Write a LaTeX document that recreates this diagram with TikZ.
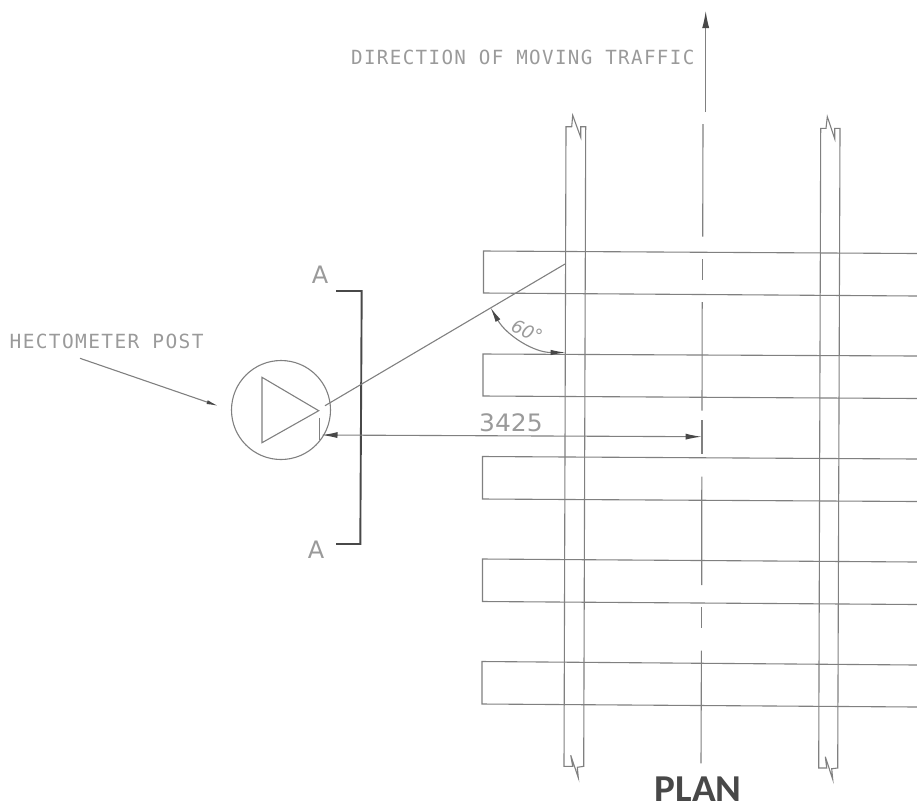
\documentclass[tikz,border=0pt]{standalone}
\usepackage{fontspec}
\usetikzlibrary{arrows.meta}
\newfontfamily\cadmono[LetterSpace=7]{DejaVu Sans Mono}
\newfontfamily\cadsans{DejaVu Sans}
\newfontfamily\planfont{Carlito}
\definecolor{inkgray}{HTML}{808080}
\definecolor{textgray}{HTML}{9A9A9A}
\definecolor{darkgray}{HTML}{484848}

\begin{document}
\begin{tikzpicture}[x=1pt,y=-1pt,
						cadline/.style={draw=inkgray,line width=1.1pt},
						bracket/.style={draw=darkgray,line width=1.9pt},
						notelabel/.style={text=textgray,inner sep=0pt,font=\cadmono\fontsize{19.5}{19.5}\selectfont},
						seclabel/.style={text=textgray,inner sep=0pt,font=\cadsans\fontsize{24}{24}\selectfont}]
		\useasboundingbox (0,0) rectangle (917,807);

		% text
		\node[notelabel,anchor=west,xscale=0.985]				(traffic)	at (351,57)		{DIRECTION OF MOVING TRAFFIC};
		\node[notelabel,anchor=west]							(hecto)		at (9.5,341)	{HECTOMETER POST};
		\node[seclabel]										(atop)		at (320,275)	{A};
		\node[seclabel]										(abot)		at (316,550)	{A};
		\node[seclabel,xscale=1.04]							(dim)		at (511,423)	{3425};
		\node[text=textgray,inner sep=0pt,rotate=-25,font=\cadsans\fontsize{18}{18}\selectfont\itshape]	(angle)	at (527,331)	{60°};
		\node[text=darkgray,inner sep=0pt,xscale=1.03,font=\planfont\bfseries\fontsize{38}{38}\selectfont]	(plan)	at (698.3,789)	{PLAN};

		% sleepers
		\draw[cadline] (917,253.5) -- (483.5,251) -- (483.5,293) -- (917,296);
		\draw[cadline] (917,356) -- (483,354) -- (483,396) -- (917,398.5);
		\draw[cadline] (917,459) -- (482.5,456.5) -- (482.5,499) -- (917,501.5);
		\draw[cadline] (917,562) -- (482.5,559) -- (482.5,601.5) -- (917,604.5);
		\draw[cadline] (917,665) -- (482,661.5) -- (482,704) -- (917,707);

		% rails
		\draw[cadline] (580.7,137.3) -- (580.7,126.7) -- (585.7,126.7) -- (583.7,766.3) -- (577.3,767.3) -- (578.3,777.7) -- (570.7,755.3) -- (572.7,766.3) -- (564,766.3) -- (566,126.7) -- (571.7,126.7) -- (572.7,115.3) -- cycle;
		\draw[cadline] (834.7,138.7) -- (834.7,128.3) -- (840,128.3) -- (837.7,768) -- (831.7,768.7) -- (832.7,779.3) -- (825.3,756.7) -- (826.7,768) -- (818.7,768) -- (820.7,128.3) -- (826,128.3) -- (827.3,116.7) -- cycle;

		% centre line
		\coordinate (arrowbase)	at (705.7,112);
		\coordinate (arrowtip)	at (705.7,11);
		\draw[cadline,-{Latex[length=17pt,width=7pt,color=darkgray]}] (arrowbase) -- (arrowtip);
		\draw[cadline] (703,124) -- (702.7,236.7);
		\draw[cadline] (702.4,259) -- (702.4,280);
		\draw[cadline] (702.2,302) -- (702,410.7);
		\draw[cadline] (702,420) -- (702,454.3);
		\draw[cadline] (701.8,476.7) -- (701.7,585);
		\draw[cadline] (701.5,607.3) -- (701.5,628.3);
		\draw[cadline] (701.4,650.7) -- (701,763.3);

		% hectometer post
		\node[circle,draw=inkgray,line width=1.1pt,inner sep=0pt,minimum size=99pt]	(post)	at (281,410)	{};
		\draw[cadline] (262,377.3) -- (262,442.7) -- (318.7,410.7) -- cycle;
		\draw[cadline] (319.3,417.7) -- (319.3,440);

		\coordinate (leader)	at (80,358.3);
		\coordinate (leadtip)	at (218.5,406);
		\draw[cadline,-{Latex[length=12pt,width=4pt,color=darkgray]}] (leader) -- (leadtip);

		% section mark
		\draw[bracket] (336,291) -- (361.7,291) -- (360.3,544) -- (336,544);

		% dimension and angle
		\coordinate (sight)		at (325,405.7);
		\coordinate (sightend)	at (565,264);
		\coordinate (dimleft)	at (321.5,435);
		\coordinate (dimright)	at (701.7,436.7);
		\coordinate (arcstart)	at (490.5,307.5);
		\coordinate (arcend)	at (565.5,352.5);
		\draw[cadline] (sight) -- (sightend);
		\draw[cadline,{Latex[length=16pt,width=6pt,color=darkgray]}-{Latex[length=16pt,width=6pt,color=darkgray]}] (dimleft) -- (dimright);
		\draw[cadline,{Latex[length=15pt,width=5.5pt,color=darkgray]}-{Latex[length=15pt,width=5.5pt,color=darkgray]}] (arcstart) .. controls (506.4,335.2) and (533.6,352.5) .. (arcend);
	\end{tikzpicture}
\end{document}
